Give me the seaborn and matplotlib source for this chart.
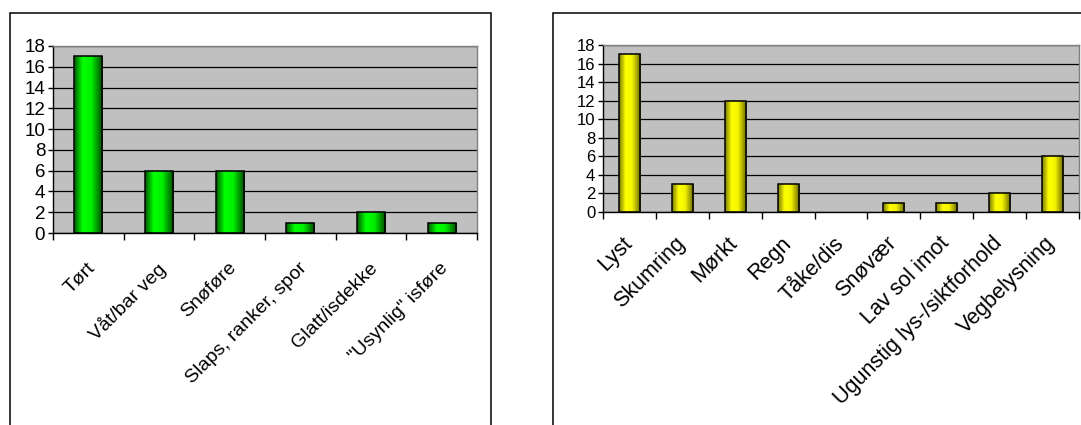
import numpy as np
import pandas as pd
import matplotlib
matplotlib.use("Agg")
import matplotlib.pyplot as plt
import seaborn as sns
from matplotlib.patches import Rectangle
from matplotlib.colors import LinearSegmentedColormap

# Road surface conditions
road_labels = ["Tørt", "Våt/bar veg", "Snøføre", "Slaps, ranker, spor",
               "Glatt/isdekke", "\"Usynlig\" isføre"]
road_counts = [17, 6, 6, 1, 2, 1]

# Light and visibility conditions
light_labels = ["Lyst", "Skumring", "Mørkt", "Regn", "Tåke/dis", "Snøvær",
                "Lav sol imot", "Ugunstig lys-/siktforhold", "Vegbelysning"]
light_counts = [17, 3, 12, 3, 0, 1, 1, 2, 6]

y_ticks = list(range(0, 19, 2))

sns.set_theme(style="white")
plt.rcParams["font.family"] = ["Liberation Sans", "DejaVu Sans"]

W, H = 1081, 425
fig = plt.figure(figsize=(W / 100, H / 100), dpi=100)


def px_axes(x0, y0, x1, y1):
    return fig.add_axes([x0 / W, 1 - y1 / H, (x1 - x0) / W, (y1 - y0) / H])


# Outer chart frames (open at the image edges)
for fx0, fx1 in [(10, 491), (553, 1100)]:
    fig.patches.append(Rectangle((fx0 / W, -0.2), (fx1 - fx0) / W, 1.2 - 12.5 / H,
                                 transform=fig.transFigure, fill=False,
                                 edgecolor="black", linewidth=1.1, zorder=0))

green_cmap = LinearSegmentedColormap.from_list(
    "bar_green", [(0.0, "#005a00"), (0.3, "#00ff00"), (0.6, "#00f000"), (1.0, "#004800")])
yellow_cmap = LinearSegmentedColormap.from_list(
    "bar_yellow", [(0.0, "#7a7a00"), (0.3, "#ffff00"), (0.6, "#f4f400"), (1.0, "#666600")])


def draw_panel(ax, labels, counts, cmap, ysize, xsize, xpad, label_shift):
    df = pd.DataFrame({"kategori": labels, "antall": counts})
    sns.barplot(data=df, x="kategori", y="antall", order=labels, ax=ax,
                width=0.4, color="white", edgecolor="black", linewidth=1.1,
                saturation=1, errorbar=None)
    n = len(labels)
    ax.set_facecolor("#c0c0c0")

    # horizontal gradient fill clipped to each bar
    grad = np.linspace(0, 1, 64).reshape(1, -1)
    for patch in list(ax.patches):
        x0, y0 = patch.get_x(), patch.get_y()
        w, h = patch.get_width(), patch.get_height()
        patch.set_facecolor("none")
        patch.set_zorder(3)
        if h <= 0:
            patch.set_linewidth(0)
            continue
        im = ax.imshow(grad, extent=[x0, x0 + w, y0, y0 + h], aspect="auto",
                       cmap=cmap, interpolation="bilinear", zorder=2)
        im.set_clip_path(patch)
    ax.set_xlim(-0.5, n - 0.5)
    ax.set_ylim(0, 18)

    ax.set_yticks(y_ticks)
    ax.yaxis.grid(True, color="black", linewidth=0.9)
    ax.xaxis.grid(False)
    ax.set_axisbelow(True)

    ax.set_xticks(np.arange(n) + label_shift)
    ax.set_xticklabels(labels, rotation=45, ha="right", va="top",
                       rotation_mode="anchor", fontsize=xsize)
    ax.set_xticks(np.arange(-0.5, n, 1.0), minor=True)
    ax.tick_params(axis="x", which="major", length=0, pad=xpad, colors="black")
    ax.tick_params(axis="x", which="minor", length=5, width=1, color="black",
                   direction="out", bottom=True)
    ax.tick_params(axis="y", which="major", length=3.6, width=1, color="black",
                   direction="out", left=True, pad=2, labelsize=ysize,
                   labelcolor="black")
    ax.set_xlabel("")
    ax.set_ylabel("")

    for side in ("left", "bottom"):
        ax.spines[side].set_color("black")
        ax.spines[side].set_linewidth(1.0)
    for side in ("top", "right"):
        ax.spines[side].set_color("#808080")
        ax.spines[side].set_linewidth(1.0)


ax_left = px_axes(53, 46, 477, 233)
draw_panel(ax_left, road_labels, road_counts, green_cmap, 13.5, 14, 19, -0.03)

ax_right = px_axes(603, 45, 1079, 212)
draw_panel(ax_right, light_labels, light_counts, yellow_cmap, 12, 15.5, 15, -0.15)

fig.savefig("out.png", dpi=100)
